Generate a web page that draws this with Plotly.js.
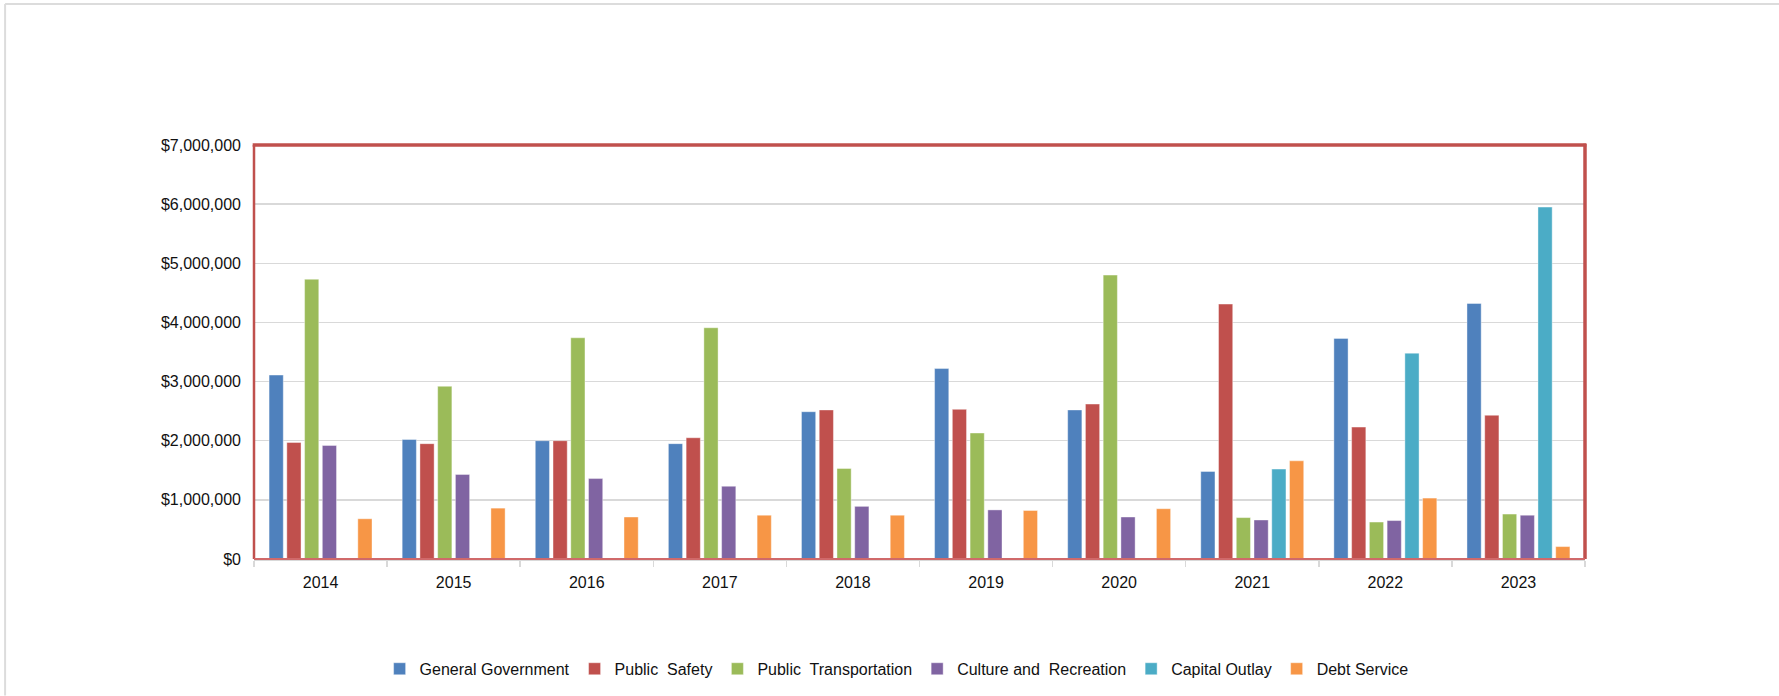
<!DOCTYPE html>
<html>
<head>
<meta charset="utf-8">
<script src="https://cdn.plot.ly/plotly-3.0.1.min.js"></script>
<style>
  html, body { margin: 0; padding: 0; background: #ffffff; }
  #chart { width: 1779px; height: 696px; }
</style>
</head>
<body>
<div id="chart"></div>
<script>
const years = ['2014', '2015', '2016', '2017', '2018', '2019', '2020', '2021', '2022', '2023'];

const generalGovernment   = [3110000, 2020000, 2000000, 1950000, 2490000, 3220000, 2520000, 1480000, 3730000, 4320000];
const publicSafety        = [1970000, 1950000, 2000000, 2050000, 2520000, 2530000, 2620000, 4310000, 2230000, 2430000];
const publicTransportation= [4730000, 2920000, 3740000, 3910000, 1530000, 2130000, 4800000, 700000, 625000, 760000];
const cultureRecreation   = [1920000, 1430000, 1360000, 1230000, 890000, 830000, 710000, 660000, 650000, 740000];
const capitalOutlay       = [0, 0, 0, 0, 0, 0, 0, 1520000, 3480000, 5950000];
const debtService         = [680000, 860000, 710000, 740000, 740000, 820000, 850000, 1660000, 1030000, 210000];

const seriesNames = ['General Government', 'Public  Safety', 'Public  Transportation', 'Culture and  Recreation', 'Capital Outlay', 'Debt Service'];
const seriesValues = [generalGovernment, publicSafety, publicTransportation, cultureRecreation, capitalOutlay, debtService];
const seriesColors = ['#4F81BD', '#C0504D', '#9BBB59', '#8064A2', '#4BACC6', '#F79646'];

const FONT = 'Liberation Sans, Arial, sans-serif';

const traces = seriesNames.map((name, i) => ({
  type: 'bar',
  name: name,
  x: years,
  y: seriesValues[i],
  marker: { color: seriesColors[i], line: { color: 'rgba(255,255,255,0.5)', width: 0.8 } },
  hoverinfo: 'x+y+name'
}));

const red = '#C0504D';
const layout = {
  width: 1779,
  height: 696,
  margin: { l: 254, r: 194, t: 145, b: 137 },
  paper_bgcolor: '#ffffff',
  plot_bgcolor: '#ffffff',
  barmode: 'group',
  bargap: 0.2,
  bargroupgap: 0.2,
  font: { family: FONT, size: 16, color: '#111111' },
  showlegend: true,
  legend: {
    orientation: 'h',
    xref: 'container', yref: 'container',
    x: 0.504, xanchor: 'center',
    y: 0.039, yanchor: 'middle',
    font: { family: FONT, size: 16, color: '#111111' },
    itemwidth: 30,
    tracegroupgap: 0
  },
  xaxis: {
    type: 'category',
    showgrid: false,
    showline: true,
    linecolor: '#d9d9d9',
    linewidth: 1.5,
    ticks: 'outside',
    tickson: 'boundaries',
    ticklen: 6,
    tickcolor: '#d9d9d9',
    tickwidth: 1.5,
    ticklabelstandoff: 8,
    tickfont: { family: FONT, size: 16, color: '#111111' },
    fixedrange: true
  },
  yaxis: {
    range: [0, 7000000],
    dtick: 1000000,
    tick0: 0,
    tickprefix: '$',
    tickformat: ',d',
    showgrid: true,
    gridcolor: '#d9d9d9',
    gridwidth: 1.5,
    zeroline: false,
    showline: false,
    ticks: '',
    ticklabelstandoff: 12,
    tickfont: { family: FONT, size: 16, color: '#111111' },
    fixedrange: true
  },
  shapes: [
    // plot-area frame
    { type: 'line', xref: 'paper', yref: 'paper', x0: -0.001, x1: 1.001, y0: 1, y1: 1, line: { color: red, width: 3.5 } },
    { type: 'line', xref: 'paper', yref: 'paper', x0: 1, x1: 1, y0: 0, y1: 1.003, line: { color: red, width: 3.5 } },
    { type: 'line', xref: 'paper', yref: 'paper', x0: 0, x1: 0, y0: 0, y1: 1, line: { color: red, width: 2.5 } },
    { type: 'line', xref: 'paper', yref: 'paper', x0: 0, x1: 1, y0: 0, y1: 0, line: { color: '#d0696a', width: 2 } },
    // outer chart border (top and left)
    { type: 'line', xref: 'paper', yref: 'paper', x0: -0.187, x1: 1.16, y0: 1.3406, y1: 1.3406, line: { color: '#dcdcdc', width: 2 } },
    { type: 'line', xref: 'paper', yref: 'paper', x0: -0.187, x1: -0.187, y0: -0.33, y1: 1.3406, line: { color: '#dcdcdc', width: 2 } }
  ]
};

Plotly.newPlot('chart', traces, layout, { displayModeBar: false, staticPlot: true });
</script>
</body>
</html>
